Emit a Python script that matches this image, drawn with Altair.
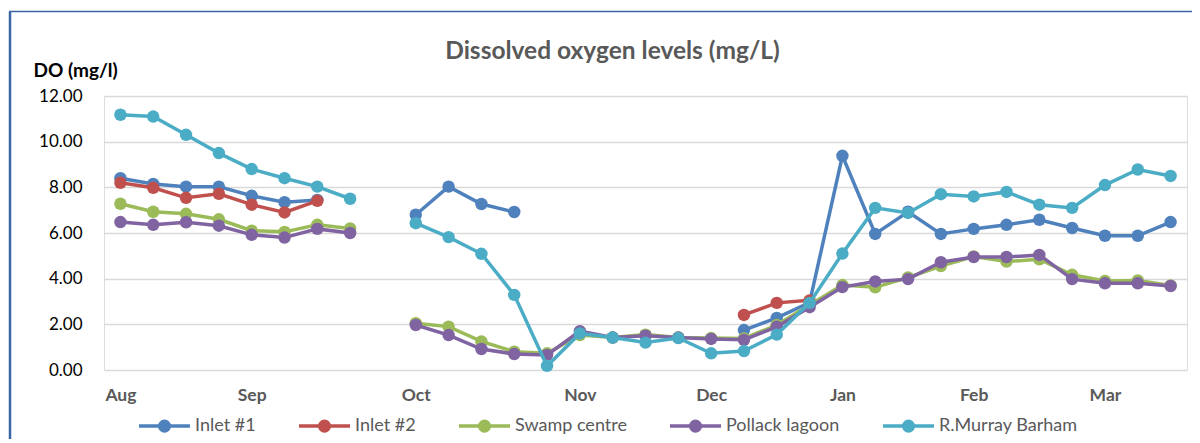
import altair as alt
import pandas as pd

# ---- data ----
week = list(range(33))
month_labels = ["Aug", "", "", "", "Sep", "", "", "", "", "Oct", "", "", "", "", "Nov", "", "", "",
                "Dec", "", "", "", "Jan", "", "", "", "Feb", "", "", "", "Mar", "", ""]
month_ticks = [i for i, m in enumerate(month_labels) if m]

series_names = ["Inlet #1", "Inlet #2", "Swamp centre", "Pollack lagoon", "R.Murray Barham"]
series_colors = ["#4F81BD", "#C0504D", "#9BBB59", "#8064A2", "#4BACC6"]

inlet1 = [8.40, 8.15, 8.03, 8.03, 7.63, 7.35, 7.45, None, None, 6.80, 8.03, 7.27, 6.92,
          None, None, None, None, None, None, 1.75, 2.28, 2.95, 9.38, 5.96, 6.93, 5.96,
          6.18, 6.36, 6.58, 6.22, 5.88, 5.88, 6.48]
inlet2 = [8.20, 7.98, 7.54, 7.72, 7.24, 6.90, 7.41, None, None, None, None, None, None,
          None, None, None, None, None, None, 2.41, 2.94, 3.05, None, None, None, None,
          None, None, None, None, None, None, None]
swamp = [7.28, 6.93, 6.84, 6.60, 6.10, 6.05, 6.36, 6.20, None, 2.05, 1.90, 1.25, 0.80,
         0.73, 1.53, 1.42, 1.55, 1.42, 1.40, 1.38, 1.97, 2.85, 3.72, 3.62, 4.05, 4.55,
         4.97, 4.75, 4.85, 4.17, 3.90, 3.92, 3.70]
pollack = [6.48, 6.36, 6.47, 6.32, 5.92, 5.80, 6.18, 6.00, None, 1.97, 1.53, 0.92, 0.70,
           0.66, 1.70, 1.42, 1.50, 1.42, 1.36, 1.32, 1.89, 2.75, 3.63, 3.88, 3.98, 4.72,
           4.95, 4.95, 5.04, 3.98, 3.80, 3.80, 3.68]
murray = [11.18, 11.10, 10.30, 9.50, 8.80, 8.40, 8.03, 7.50, None, 6.43, 5.82, 5.09, 3.29,
          0.18, 1.60, 1.42, 1.20, 1.40, 0.73, 0.83, 1.55, 2.94, 5.10, 7.10, 6.88, 7.70,
          7.60, 7.80, 7.24, 7.10, 8.10, 8.78, 8.50]
all_values = [inlet1, inlet2, swamp, pollack, murray]

# ---- long table with segment ids (breaks at gaps) ----
rows = []
for name, vals in zip(series_names, all_values):
    seg = 0
    prev_none = True
    for w, v in zip(week, vals):
        if v is None:
            prev_none = True
            continue
        if prev_none:
            seg += 1
            prev_none = False
        rows.append({"week": w, "series": name, "value": v, "seg": f"{name}-{seg}"})
df = pd.DataFrame(rows)

FONT = "Lato"
GREY = "#595959"

label_expr = "[" + ",".join(f"'{m}'" for m in month_labels) + "][datum.value]"

color = alt.Color(
    "series:N",
    scale=alt.Scale(domain=series_names, range=series_colors),
    legend=alt.Legend(
        orient="none", legendX=33, legendY=311, direction="horizontal", columns=5,
        title=None,
        symbolType="M-1,0H2M0.22,0A0.28,0.28,0,1,1,0.78,0A0.28,0.28,0,1,1,0.22,0Z",
        symbolSize=1156, symbolStrokeWidth=3.5,
        labelFont=FONT, labelFontSize=18, labelColor=GREY, labelOffset=20,
        columnPadding=36,
    ),
)

x = alt.X(
    "week:Q",
    scale=alt.Scale(domain=[-0.5, 32.5], nice=False, zero=False),
    axis=alt.Axis(values=month_ticks, labelExpr=label_expr, grid=False, domain=False,
                  ticks=False, labelFont=FONT, labelFontSize=17.5, labelFontWeight="bold",
                  labelColor=GREY, labelPadding=16, title=None),
)
y = alt.Y(
    "value:Q",
    scale=alt.Scale(domain=[0, 12], nice=False),
    axis=alt.Axis(values=[0, 2, 4, 6, 8, 10, 12], format=".2f", grid=True,
                  gridColor="#D9D9D9", gridWidth=1.5, domain=False, ticks=False,
                  labelFont=FONT, labelFontSize=17, labelColor="#000000", labelPadding=22,
                  title="DO (mg/l)", titleAngle=0, titleX=-71, titleY=-26,
                  titleAlign="left", titleBaseline="middle", titleFont=FONT,
                  titleFontSize=19, titleFontWeight="bold", titleColor="#000000"),
)

layers = []
for name in series_names:
    base = alt.Chart(df).transform_filter(alt.datum.series == name)
    layers.append(base.mark_line(strokeWidth=3.5).encode(x=x, y=y, color=color, detail="seg:N"))
    layers.append(base.mark_point(filled=True, size=155, opacity=1).encode(x=x, y=y, color=color))

frame_df = pd.DataFrame({"k": [0]})
frame_left = alt.Chart(frame_df).mark_rule(color="#3B64A5", strokeWidth=2.5).encode(
    x=alt.value(-94), y=alt.value(-84), y2=alt.value(352))
frame_top = alt.Chart(frame_df).mark_rule(color="#3B64A5", strokeWidth=1.5).encode(
    x=alt.value(-95), x2=alt.value(1096), y=alt.value(-84.5))

chart = alt.layer(frame_left, frame_top, *layers).properties(
    width=1083, height=274,
    padding={"left": 96, "top": 88, "right": 5, "bottom": 69},
    autosize=alt.AutoSizeParams(type="none"),
    title=alt.TitleParams("Dissolved oxygen levels (mg/L)", font=FONT, fontSize=24.5,
                          fontWeight="bold", color=GREY, anchor="middle", dx=-33,
                          offset=0, dy=54),
).configure_view(stroke=None).configure(background="white")

chart.save("out.html", embed_options={"renderer": "svg", "actions": False})
